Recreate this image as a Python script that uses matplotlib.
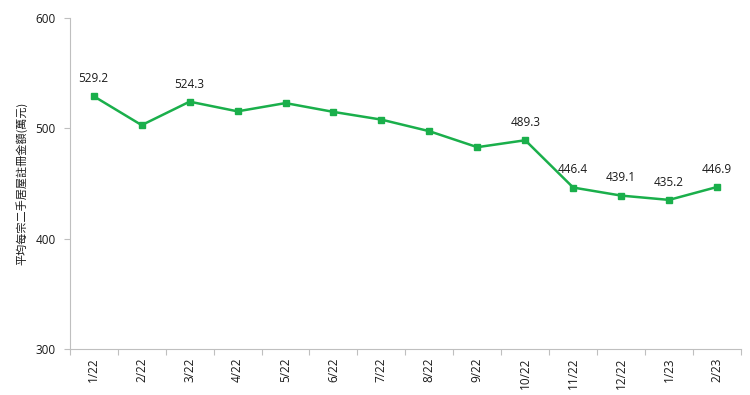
import matplotlib
matplotlib.use('Agg')
import matplotlib.pyplot as plt
import numpy as np

plt.rcParams['font.family'] = ['Open Sans', 'Noto Sans CJK TC', 'DejaVu Sans']

months = ['1/22', '2/22', '3/22', '4/22', '5/22', '6/22', '7/22',
          '8/22', '9/22', '10/22', '11/22', '12/22', '1/23', '2/23']
amounts = [529.2, 503.0, 524.3, 515.5, 523.0, 515.0, 508.0,
           497.5, 483.0, 489.3, 446.4, 439.1, 435.2, 446.9]
# which points carry a data label
labelled = [0, 2, 9, 10, 11, 12, 13]
ylabel = '平均每宗二手居屋註冊金額(萬元)'

green = '#1AAF4B'
grey = '#BFBFBF'
text_col = '#1A1A1A'

fig = plt.figure(figsize=(7.5, 3.95), dpi=100)
ax = fig.add_axes([0.093, 0.1165, 0.895, 0.8375])

x = np.arange(len(months))
ax.plot(x, amounts, color=green, lw=1.8, marker='s', ms=4.5, mec=green, mfc=green)

for i in labelled:
    ax.annotate(f'{amounts[i]:.1f}', (x[i], amounts[i]), xytext=(0, 8),
                textcoords='offset points', ha='center', va='bottom',
                fontsize=8.5, color=text_col)

ax.set_xlim(-0.5, len(months) - 0.5)
ax.set_ylim(300, 600)
ax.set_yticks([300, 400, 500, 600])
ax.set_xticks(x)
ax.set_xticklabels(months, rotation=90, fontsize=8.5, color=text_col)
ax.set_xticks(np.arange(-0.5, len(months)), minor=True)
ax.tick_params(axis='x', which='major', length=0, pad=6)
ax.tick_params(axis='x', which='minor', length=4, color=grey, width=0.8)
ax.tick_params(axis='y', length=4, color=grey, width=0.8, labelsize=8.5,
               labelcolor=text_col, pad=6)

for side in ['top', 'right']:
    ax.spines[side].set_visible(False)
for side in ['left', 'bottom']:
    ax.spines[side].set_color(grey)
    ax.spines[side].set_linewidth(0.8)

ax.set_ylabel(ylabel, fontsize=8, color=text_col,
              family=['Noto Sans CJK TC', 'DejaVu Sans'])
ax.yaxis.set_label_coords(-0.063, 0.5)

fig.savefig('out.png', dpi=100)
